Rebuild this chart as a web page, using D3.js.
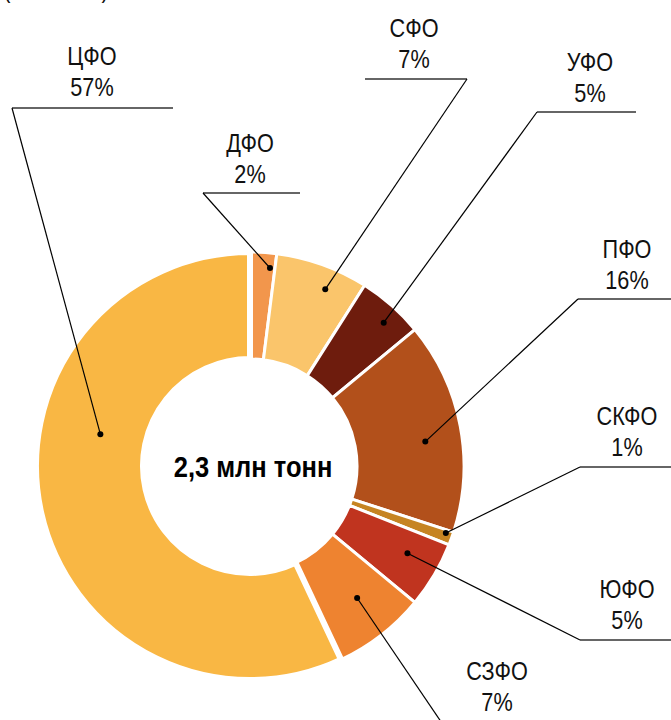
<!DOCTYPE html>
<html>
<head>
<meta charset="utf-8">
<script src="https://cdn.jsdelivr.net/npm/d3@7"></script>
<style>
  html, body { margin: 0; padding: 0; background: #fff; }
  #chart { width: 671px; height: 720px; }
</style>
</head>
<body>
<div id="chart"></div>
<script>
// regions, clockwise from 12 o'clock
const regions = ["ДФО", "СФО", "УФО", "ПФО", "СКФО", "ЮФО", "СЗФО", "ЦФО"];
const shares = [2, 7, 5, 16, 1, 5, 7, 57];
const colors = ["#f2964c", "#fac56b", "#6e1c0d", "#b2501b", "#c68422", "#c0341f", "#ee8330", "#f9b744"];
const totalLabel = "2,3 млн тонн";
const unitLabel = "(млн тонн)";

// label layout: text centre, shelf line, which end of the shelf the leader leaves from,
// and where along the slice (t = fraction of the slice, r = radius) the dot sits
const layout = {
  "ЦФО":  { tx: 92,  ty: 65,  shelf: [12, 173, 108],  from: 0, t: 0.62, r: 153 },
  "ДФО":  { tx: 250, ty: 152, shelf: [203, 300, 193], from: 0, t: 0.80, r: 199 },
  "СФО":  { tx: 414, ty: 37,  shelf: [365, 467, 79],  from: 1, t: 0.63, r: 192 },
  "УФО":  { tx: 590, ty: 71,  shelf: [537, 636, 112], from: 0, t: 0.59, r: 196 },
  "ПФО":  { tx: 627, ty: 258, shelf: [578, 671, 299], from: 0, t: 0.55, r: 177 },
  "СКФО": { tx: 627, ty: 425, shelf: [580, 671, 467], from: 0, t: 0.25, r: 207 },
  "ЮФО":  { tx: 627, ty: 598, shelf: [580, 671, 640], from: 0, t: 0.41, r: 180 },
  "СЗФО": { tx: 497, ty: 680, shelf: [450, 560, 735], from: 0, t: 0.45, r: 170 }
};

const width = 671, height = 720;
const cx = 250, cy = 466;
const outerR = 214, innerR = 107;
const squeeze = 0.85; // condensed look for the labels

const svg = d3.select("#chart")
  .append("svg")
  .attr("width", width)
  .attr("height", height)
  .attr("viewBox", [0, 0, width, height])
  .attr("font-family", "'Liberation Sans', Arial, sans-serif");

const data = regions.map((name, i) => ({ name: name, value: shares[i], color: colors[i] }));

const pie = d3.pie()
  .value(d => d.value)
  .sort(null)
  .startAngle(0)
  .endAngle(2 * Math.PI);

const arcs = pie(data);

const arc = d3.arc()
  .innerRadius(innerR)
  .outerRadius(outerR);

const ring = svg.append("g")
  .attr("transform", `translate(${cx},${cy})`);

ring.selectAll("path")
  .data(arcs)
  .join("path")
  .attr("d", arc)
  .attr("fill", d => d.data.color)
  .attr("stroke", "#fff")
  .attr("stroke-width", d => d.data.name === "ЦФО" ? 6 : 3)
  .attr("stroke-linejoin", "miter");

// squeezed text helper
function condText(parent, x, y, str, size, weight) {
  return parent.append("g")
    .attr("transform", `translate(${x},${y}) scale(${squeeze},1)`)
    .append("text")
    .attr("text-anchor", "middle")
    .attr("font-size", size)
    .attr("font-weight", weight || "normal")
    .attr("fill", "#111")
    .text(str);
}

// centre text
condText(svg, cx + 3, cy + 11, totalLabel, 30, "bold").attr("fill", "#000");

// partially cut unit label at the very top
condText(svg, 56, -2, unitLabel, 25.5);

// dot position for a slice
function dotPos(d) {
  const L = layout[d.data.name];
  const a = d.startAngle + (d.endAngle - d.startAngle) * L.t;
  return [cx + L.r * Math.sin(a), cy - L.r * Math.cos(a)];
}

const labels = svg.append("g");

arcs.forEach(d => {
  const L = layout[d.data.name];
  const [x1, x2, sy] = L.shelf;
  const [dx, dy] = dotPos(d);
  const sx = L.from ? x2 : x1;

  labels.append("line")
    .attr("x1", x1).attr("x2", x2)
    .attr("y1", sy).attr("y2", sy)
    .attr("stroke", "#333")
    .attr("stroke-width", 1.5);

  labels.append("line")
    .attr("x1", sx).attr("y1", sy)
    .attr("x2", dx).attr("y2", dy)
    .attr("stroke", "#000")
    .attr("stroke-width", 1.2);

  labels.append("circle")
    .attr("cx", dx).attr("cy", dy)
    .attr("r", 3)
    .attr("fill", "#000");

  condText(labels, L.tx, L.ty, d.data.name, 25.5);
  condText(labels, L.tx, L.ty + 31, d.data.value + "%", 25.5);
});
</script>
</body>
</html>
